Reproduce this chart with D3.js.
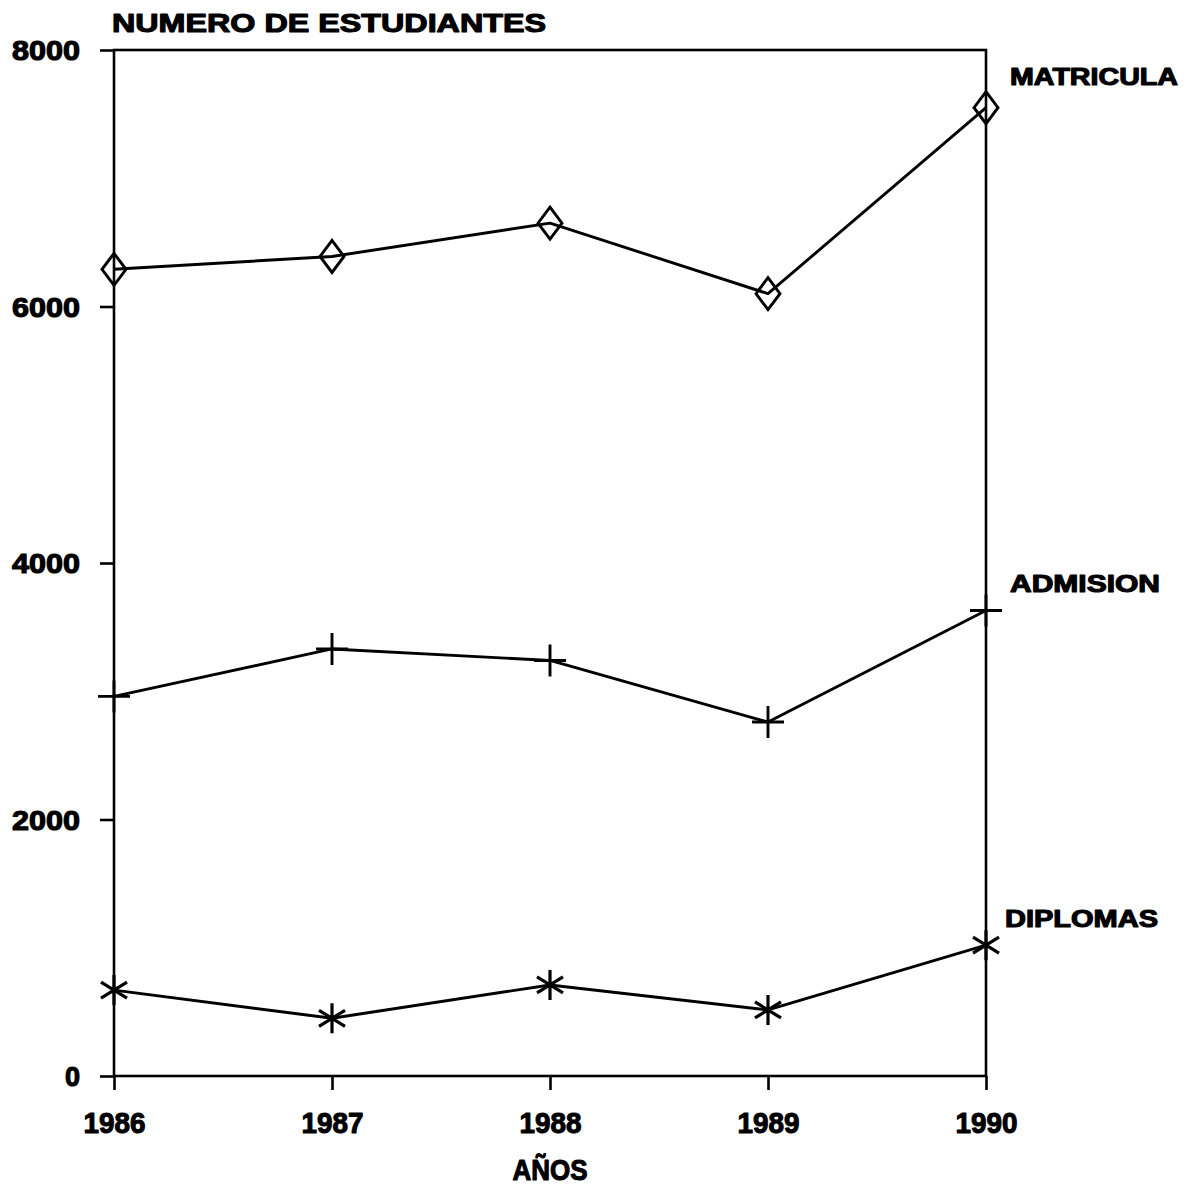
<!DOCTYPE html>
<html>
<head>
<meta charset="utf-8">
<script src="https://cdn.jsdelivr.net/npm/d3@7"></script>
<style>
  html, body { margin: 0; padding: 0; background: #fff; }
  svg text { font-family: "Liberation Sans", Arial, sans-serif; font-weight: bold; fill: #000; stroke: #000; stroke-width: 1.1px; stroke-linejoin: round; }
</style>
</head>
<body>
<svg id="chart" width="1194" height="1186"></svg>
<script>
// Student counts per year
const years = [1986, 1987, 1988, 1989, 1990];
const matricula = [6290, 6390, 6650, 6100, 7550];
const admision = [2960, 3330, 3240, 2760, 3630];
const diplomas = [670, 450, 710, 515, 1020];
const yTicks = [0, 2000, 4000, 6000, 8000];
const seriesNames = ["MATRICULA", "ADMISION", "DIPLOMAS"];
const titleText = "NUMERO DE ESTUDIANTES";
const xTitleText = "AÑOS";

const svg = d3.select("#chart");
const plotLeft = 114, plotRight = 986, plotTop = 50, plotBottom = 1076;

const x = d3.scalePoint().domain(years).range([plotLeft, plotRight]);
const y = d3.scaleLinear().domain([0, 8000]).range([plotBottom, plotTop]);

const ink = "#000";

// Plot frame
svg.append("rect")
  .attr("x", plotLeft).attr("y", plotTop)
  .attr("width", plotRight - plotLeft).attr("height", plotBottom - plotTop)
  .attr("fill", "none").attr("stroke", ink).attr("stroke-width", 2.6);

// Y axis
const yAxis = svg.append("g")
  .attr("transform", `translate(${plotLeft},0)`)
  .call(d3.axisLeft(y).tickValues(yTicks).tickSize(14).tickPadding(20).tickFormat(d3.format("d")));
yAxis.select(".domain").remove();
yAxis.selectAll(".tick line").attr("stroke", ink).attr("stroke-width", 2.6);
yAxis.selectAll(".tick text").attr("font-size", 27).attr("dy", "0.36em")
  .filter(d => d >= 1000)
  .attr("textLength", 68).attr("lengthAdjust", "spacingAndGlyphs");

// X axis
const xAxis = svg.append("g")
  .attr("transform", `translate(0,${plotBottom})`)
  .call(d3.axisBottom(x).tickSize(14).tickPadding(22).tickFormat(d3.format("d")));
xAxis.select(".domain").remove();
xAxis.selectAll(".tick line").attr("stroke", ink).attr("stroke-width", 2.6);
xAxis.selectAll(".tick text")
  .attr("font-size", 30).attr("dy", "0.71em")
  .attr("textLength", 62)
  .attr("lengthAdjust", "spacingAndGlyphs");

// Titles
svg.append("text").attr("x", 112).attr("y", 32)
  .attr("font-size", 25).attr("textLength", 434).attr("lengthAdjust", "spacingAndGlyphs")
  .text(titleText);
svg.append("text").attr("x", x(1988)).attr("y", 1180)
  .attr("text-anchor", "middle").attr("font-size", 29)
  .attr("textLength", 75).attr("lengthAdjust", "spacingAndGlyphs")
  .text(xTitleText);

const line = d3.line().x((d, i) => x(years[i])).y(d => y(d));

[matricula, admision, diplomas].forEach(vals => {
  svg.append("path").datum(vals)
    .attr("d", line).attr("fill", "none")
    .attr("stroke", ink).attr("stroke-width", 2.9).attr("stroke-linejoin", "round");
});

// Markers
const sw = 2.9;
svg.append("g").selectAll("path").data(matricula).join("path")
  .attr("transform", (d, i) => `translate(${x(years[i])},${y(d)})`)
  .attr("d", "M0,-16L12,0L0,16L-12,0Z")
  .attr("fill", "none").attr("stroke", ink).attr("stroke-width", sw);

svg.append("g").selectAll("path").data(admision).join("path")
  .attr("transform", (d, i) => `translate(${x(years[i])},${y(d)})`)
  .attr("d", "M0,-16V16M-16,0H16")
  .attr("fill", "none").attr("stroke", ink).attr("stroke-width", sw);

svg.append("g").selectAll("path").data(diplomas).join("path")
  .attr("transform", (d, i) => `translate(${x(years[i])},${y(d)})`)
  .attr("d", "M0,-15V15M-13,-8L13,8M-13,8L13,-8")
  .attr("fill", "none").attr("stroke", ink).attr("stroke-width", 3.2);

// Series labels at the right edge
const labelY = [85, 592, 927];
const labelX = [1010, 1010, 1005];
const labelW = [168, 150, 153];
seriesNames.forEach((name, i) => {
  svg.append("text").attr("x", labelX[i]).attr("y", labelY[i])
    .attr("font-size", 23).attr("textLength", labelW[i]).attr("lengthAdjust", "spacingAndGlyphs")
    .text(name);
});
</script>
</body>
</html>
